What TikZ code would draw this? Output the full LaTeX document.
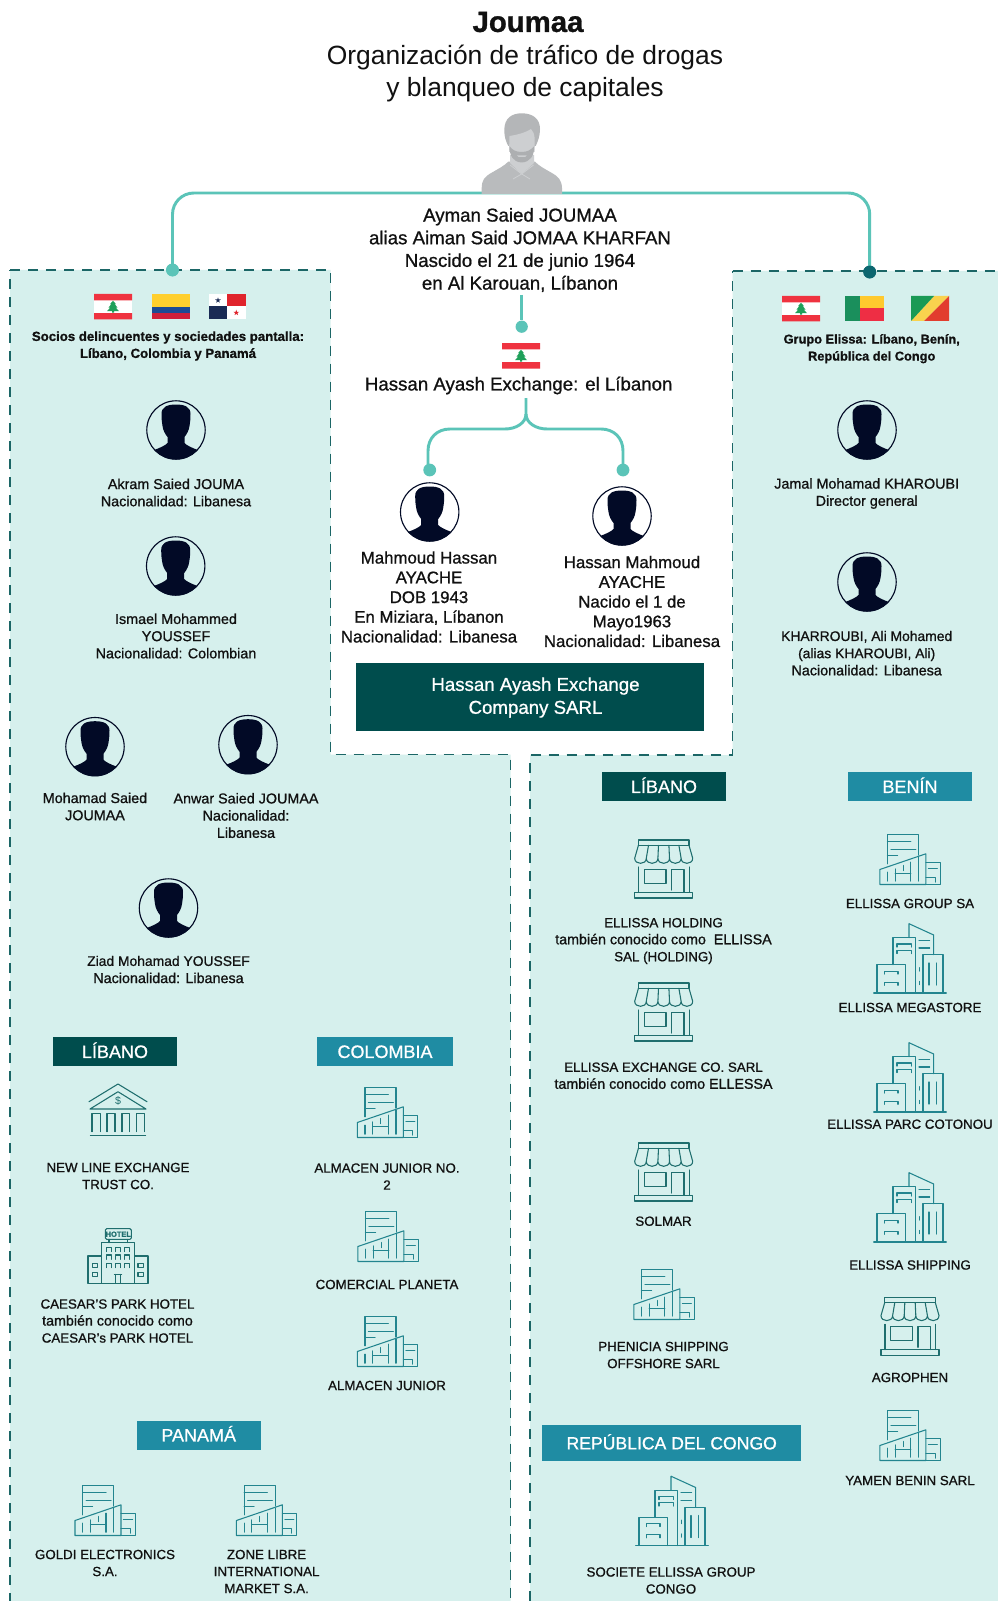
\documentclass[tikz,border=0pt]{standalone}
\usepackage{fontspec}
\setmainfont[FakeBold=0.9]{Liberation Sans}
\newfontfamily\regfont{Liberation Sans}
\definecolor{panel}{HTML}{D6F0ED}
\definecolor{dashc}{HTML}{1B6666}
\definecolor{conn}{HTML}{5BC4B8}
\definecolor{darkt}{HTML}{004D4D}
\definecolor{midt}{HTML}{1F8CA3}
\definecolor{icond}{HTML}{1F6E6E}
\definecolor{iconm}{HTML}{23858F}
\definecolor{ink}{HTML}{111111}
\definecolor{navy}{HTML}{020A26}
\definecolor{frd}{HTML}{EF3340}
\definecolor{fgr}{HTML}{1FA05A}
\definecolor{gb}{HTML}{B9BBBD}
\definecolor{gh}{HTML}{B4B6B8}
\definecolor{gl}{HTML}{CDCFD1}
\definecolor{gd}{HTML}{ADAFB1}
\definecolor{coly}{HTML}{FFCF2E}
\definecolor{colb}{HTML}{1C4A94}
\definecolor{colr}{HTML}{CE1F3A}
\definecolor{panr}{HTML}{E0242C}
\definecolor{pann}{HTML}{1A2B55}
\definecolor{beng}{HTML}{1A8F5C}
\definecolor{beny}{HTML}{FFC92E}
\definecolor{benr}{HTML}{EE2E44}
\definecolor{cony}{HTML}{F9D24E}
\definecolor{cong}{HTML}{1A9A55}
\definecolor{conr}{HTML}{E23D2E}
\newcommand{\lcline}[1]{{\fontsize{10.7}{12.75}\selectfont #1}}
\newcommand{\tightline}[1]{{\fontsize{10.4}{12.9}\selectfont #1}}
\tikzset{
 panelshape/.style={fill=panel,draw=dashc,line width=0.95pt,dash pattern=on 7.5pt off 6pt},
 connline/.style={draw=conn,line width=2.2pt},
 dotn/.style={circle,fill=conn,inner sep=0,minimum size=9.6pt},
 dotd/.style={circle,fill=midt!40!darkt,inner sep=0,minimum size=9.6pt},
 txtbase/.style={text=ink,align=center,inner sep=0},
 headt/.style={txtbase,font=\fontsize{14}{17}\selectfont},
 namet/.style={txtbase,font=\fontsize{12.6}{14.8}\selectfont},
 pert/.style={txtbase,font=\fontsize{10.75}{12.9}\selectfont},
 itemt/.style={txtbase,font=\fontsize{10}{12.75}\selectfont},
 boldt/.style={txtbase,font=\bfseries\fontsize{9.9}{12.75}\selectfont},
 tagbox/.style={inner sep=0,text=white,minimum height=21.75pt,text height=9.7pt,text depth=0pt,font=\fontsize{13.5}{16}\selectfont},
 icon/.style={line width=0.8pt,line join=round,line cap=round},
 person/.pic={
  \begin{scope}
   \clip (0,0) circle (29.5);
   \fill[navy] (0,-25.5) .. controls (-9,-25.5) and (-14.5,-23) .. (-14.5,-16)
     .. controls (-14.5,-10) and (-14,-7) .. (-13.5,-4)
     .. controls (-13,0) and (-11,4) .. (-8.5,7)
     -- (-8.5,13) .. controls (-10,15) and (-16,18) .. (-22,20) -- (-22,32) -- (22,32) -- (22,20)
     .. controls (16,18) and (10,15) .. (8.5,13) -- (8.5,7)
     .. controls (11,4) and (13,0) .. (13.5,-4)
     .. controls (14,-7) and (14.5,-10) .. (14.5,-16)
     .. controls (14.5,-23) and (9,-25.5) .. (0,-25.5) -- cycle;
  \end{scope}
  \draw[navy,line width=0.85pt] (0,0) circle (29.2);
 },
 storeicon/.pic={
  \begin{scope}[icon]
  \draw (-25.3,-29) rectangle (25.3,-23.7);
  \draw (-25.3,-23.7) -- (-29,-10.7) .. controls (-29,-4) and (-17.4,-4) .. (-17.4,-10.7)
        -- (-15.2,-23.7) (-17.4,-10.7) .. controls (-17.4,-4) and (-5.8,-4) .. (-5.8,-10.7)
        -- (-5.2,-23.7) (-5.8,-10.7) .. controls (-5.8,-4) and (5.8,-4) .. (5.8,-10.7)
        -- (5.2,-23.7) (5.8,-10.7) .. controls (5.8,-4) and (17.4,-4) .. (17.4,-10.7)
        -- (15.2,-23.7) (17.4,-10.7) .. controls (17.4,-4) and (29,-4) .. (29,-10.7)
        -- (25.3,-23.7);
  \draw (-25,-2) -- (-25,23.3) (25.5,-2) -- (25.5,23.3);
  \draw (-19.3,0.3) rectangle (2.3,14.3);
  \draw (8,21) -- (8,0.3) -- (20.3,0.3) -- (20.3,23.3);
  \draw (-29,23.3) rectangle (29,29);
  \end{scope}
 },
 officeicon/.pic={
  \begin{scope}[icon]
  \draw (-22.5,4.3) -- (-22.5,-25) -- (8.5,-25) -- (8.5,-4.5);
  \draw (-22.5,-18) -- (0.8,-18) (-19,-10) -- (5.8,-10) (-22.5,-4) -- (-12.5,-4);
  \draw (-30.2,25) -- (-30.2,10) -- (15.8,-5.7) -- (15.8,25) -- cycle;
  \draw (15.8,3.3) -- (30.2,3.3) -- (30.2,25) -- (15.8,25);
  \draw (18.3,8.7) -- (27.3,8.7) (15.8,17.7) -- (25.2,17.7) -- (25.2,22.7);
  \draw (-22.5,12.7) -- (-22.5,21.7) (-14.8,9.3) -- (-14.8,21.7) (0.8,2.7) -- (0.8,21.7) (8.5,-2.3) -- (8.5,21.7);
  \draw (-6.8,6) -- (-6.8,11) (-14.8,14.3) -- (0.8,14.3);
  \end{scope}
 },
 cityicon/.pic={
  \begin{scope}[icon]
  \draw (-36.3,35) -- (36.3,35);
  \draw (-33,35) -- (-33,6.7) -- (-4.7,6.7) -- (-4.7,35);
  \draw (-17,6.7) -- (-17,-20.3) -- (5.7,-20.3) -- (5.7,35);
  \draw (-1,-20.3) -- (-1,-34.3) -- (23.7,-23) -- (23.7,-3.3);
  \draw (13,35) -- (13,-3.3) -- (33,-3.3) -- (33,35);
  \draw (-25.3,16) -- (-25.3,13.3) -- (-12,13.3) -- (-12,16) (-25.3,27.3) -- (-25.3,24.3) -- (-12,24.3) -- (-12,27.3);
  \draw (-13,-11) -- (-13,-14) -- (1.3,-14) -- (1.3,-11) (-13,-4.5) -- (-13,-7.7) -- (1.3,-7.7) -- (1.3,-4.5);
  \draw (9,-17.7) -- (19.7,-17.7) (9,-10) -- (19.7,-10);
  \draw (19,5) -- (19,27) (26.3,5) -- (26.3,27);
  \draw (9.7,9.7) -- (9.7,13) (9.7,23.3) -- (9.7,26.7);
  \end{scope}
 },
 bankicon/.pic={
  \begin{scope}[icon]
  \draw (-29,-8.3) -- (0,-26) -- (29,-8.3);
  \draw (-28,-1) -- (0,-18.3) -- (28,-1) -- cycle;
  \foreach \a/\b in {-26/-17.7,-11/-3,4/11.7,18.7/26.7}{
    \draw (\a,21.7) -- (\a,3.3) -- (\b,3.3) -- (\b,21.7);
  }
  \draw (-27.7,25.7) -- (27.7,25.7);
  \node[inner sep=0,font=\regfont\fontsize{8}{8}\selectfont] (dollar) at (0,-9.2) {\$};
  \end{scope}
 },
 hotelicon/.pic={
  \begin{scope}[icon]
  \draw[rounded corners=1pt] (-12.7,-27.3) rectangle (13.3,-16.7);
  \node[inner sep=0,font=\bfseries\fontsize{5.6}{6}\selectfont] (hotellabel) at (0.3,-21.8) {HOTEL};
  \draw (-9,-16.7) -- (-9,-13.3) (9.7,-16.7) -- (9.7,-13.3);
  \draw (-16.7,-13.3) rectangle (16.7,27.3);
  \draw (-16.7,0) -- (-30,0) -- (-30,27.3) -- (30,27.3) -- (30,0) -- (16.7,0);
  \foreach \a in {-11.7,-2.8,6.2}{
    \foreach \b in {-8.7,-1,7.3}{
      \draw (\a,\b+4.4) -- (\a,\b) -- (\a+5,\b) -- (\a+5,\b+4.4);
    }
  }
  \foreach \a in {-25.7,20}{
    \foreach \b in {7.3,16.3}{ \draw (\a,\b) rectangle (\a+5.4,\b+4.6); }
  }
  \draw (-3.7,18.3) -- (3.7,18.3) (-2.4,18.3) -- (-2.4,27.3) (2.6,18.3) -- (2.6,27.3);
  \end{scope}
 },
 cedar/.pic={
  \fill[fgr] (0,-6) -- (3,-2.5) -- (1.8,-2.5) -- (4.6,1) -- (2.8,1) -- (6,4.4) -- (1,4.4) -- (1,6) -- (-1,6) -- (-1,4.4) -- (-6,4.4) -- (-2.8,1) -- (-4.6,1) -- (-1.8,-2.5) -- (-3,-2.5) -- cycle;
 },
 lbflag/.pic={
  \fill[white] (0,0) rectangle (38,25.5);
  \fill[frd] (0,0) rectangle (38,6.4) (0,19.1) rectangle (38,25.5);
  \pic at (19,12.7) {cedar};
 },
}
\begin{document}
\begin{tikzpicture}[x=0.75pt,y=-0.75pt]
\useasboundingbox (0,0) rectangle (997,1601);
\fill[white] (0,0) rectangle (997,1601);

% panels
\path[panelshape] (10,270) -- (330.5,270) -- (330.5,754.5) -- (510.5,754.5) -- (510.5,1606) -- (10,1606) -- cycle;
\path[panelshape] (732.5,271) -- (1005,271) -- (1005,1606) -- (530,1606) -- (530,755) -- (732.5,755) -- cycle;

% title
\node[txtbase,font=\bfseries\fontsize{22}{24}\selectfont] (title) at (528,22) {Joumaa};
\node[txtbase,font=\regfont\fontsize{19.8}{24}\selectfont] (subtitle) at (525,74) {Organización de tráfico de drogas\\y blanqueo de capitales};

% connectors
\node[dotn] (dl) at (172.5,270) {};
\node[dotd] (dr) at (869.7,272) {};
\coordinate (bossbar) at (521.7,193);
\draw[connline,rounded corners=16pt] (dl.center) |- (bossbar) -| (dr.center);
\node[dotn] at (dl) {};
\node[dotd] at (dr) {};

% boss
\fill[gb] (481.7,194) -- (481.7,188) .. controls (482,180) and (484,177) .. (492,172.5) .. controls (498,169) and (504,166) .. (508.3,161.7) -- (535,161.7) .. controls (539,166) and (545,169) .. (551,172.5) .. controls (559,177) and (561.5,180) .. (562,188) -- (562,194) -- cycle;
\fill[gl] (510,155) -- (534,155) -- (534,163) -- (521.7,174) -- (510,163) -- cycle;
\draw[gl,line width=0.6pt] (510,165) -- (521.7,174) -- (513,179) (533.5,165) -- (521.7,174) -- (530,179);
\fill[gh] (504.3,130) .. controls (504.3,118) and (512,113.3) .. (521.7,113.3) .. controls (533,113.3) and (540,119) .. (540,129) .. controls (540,136) and (538,141) .. (535.7,146) -- (508.3,146) .. controls (505.5,141) and (504.3,136) .. (504.3,130) -- cycle;
\fill[gl] (509.5,136) .. controls (516,135) and (525,133) .. (531,129) .. controls (533,131) and (534.3,134) .. (534.6,138) -- (534.6,152) -- (509,152) -- cycle;
\fill[gd] (509.5,146) .. controls (512,150) and (516,152) .. (521.7,152) .. controls (527,152) and (531,150) .. (534.3,146) .. controls (534.3,156) and (530,162) .. (521.7,162.5) .. controls (513,162) and (509.5,156) .. (509.5,146) -- cycle;
\fill[gl] (517,155.5) -- (526.5,155.5) -- (525,157) -- (518.5,157) -- cycle;

\node[headt] (bossinfo) at (520,250) {Ayman Saied JOUMAA\\alias Aiman Said JOMAA KHARFAN\\Nascido el 21 de junio 1964\\en Al Karouan, Líbanon};

% central column
\coordinate (s1) at (521.7,295);
\node[dotn,minimum size=9.2pt] (d1) at (521.7,326.7) {};
\draw[connline] (s1) -- (d1);
\pic at (502,343) {lbflag};
\node[headt] (hae) at (518.7,385.5) {Hassan Ayash Exchange: el Líbanon};
\coordinate (b0) at (526,398);
\node[dotn] (d2) at (429.7,470) {};
\node[dotn] (d3) at (623,470) {};
\draw[connline] (b0) -- (526,414) .. controls (526,423) and (516,429) .. (505,429) -- (450,429) .. controls (437,429) and (428,438) .. (428,451) -- (428,470);
\draw[connline] (526,414) .. controls (526,423) and (536,429) .. (547,429) -- (601,429) .. controls (614,429) and (623,438) .. (623,451) -- (d3.center);
\pic at (429.7,512) {person};
\pic at (622,516) {person};
\node[namet] (mh) at (429,597) {Mahmoud Hassan\\AYACHE\\DOB 1943\\En Miziara, Líbanon\\Nacionalidad: Libanesa};
\node[namet] (hm) at (632,601.5) {Hassan Mahmoud\\AYACHE\\Nacido el 1 de\\Mayo1963\\Nacionalidad: Libanesa};
\node[fill=darkt,inner sep=0,minimum width=261pt,minimum height=50.7pt] (company) at (530,696.8) {};
\node[text=white,inner sep=0,align=center,font=\fontsize{14}{17.2}\selectfont] (companyt) at (535.5,697.5) {Hassan Ayash Exchange\\Company SARL};

% left flags
\pic at (94,294) {lbflag};
\fill[coly] (152,294) rectangle (190,307);
\fill[colb] (152,307) rectangle (190,313);
\fill[colr] (152,313) rectangle (190,319);
\fill[white] (209,294) rectangle (245.5,319);
\fill[panr] (227.3,294) rectangle (245.5,306.5);
\fill[pann] (209,306.5) rectangle (227.3,319);
\fill[pann,shift={(218,300.3)}] (0,-3) -- (0.7,-0.9) -- (2.9,-0.9) -- (1.1,0.4) -- (1.8,2.4) -- (0,1.2) -- (-1.8,2.4) -- (-1.1,0.4) -- (-2.9,-0.9) -- (-0.7,-0.9) -- cycle;
\fill[panr,shift={(236.3,312.7)}] (0,-3) -- (0.7,-0.9) -- (2.9,-0.9) -- (1.1,0.4) -- (1.8,2.4) -- (0,1.2) -- (-1.8,2.4) -- (-1.1,0.4) -- (-2.9,-0.9) -- (-0.7,-0.9) -- cycle;
\node[boldt] (socios) at (168,346) {Socios delincuentes y sociedades pantalla:\\Líbano, Colombia y Panamá};

% left persons
\pic at (176,430) {person};
\node[pert] (p1) at (176,492.5) {Akram Saied JOUMA\\Nacionalidad: Libanesa};
\pic at (175.7,566) {person};
\node[pert] (p2) at (176,636) {Ismael Mohammed\\YOUSSEF\\Nacionalidad: Colombian};
\pic at (95,746.7) {person};
\node[pert] (p3) at (95,806.5) {Mohamad Saied\\JOUMAA};
\pic at (248,744.7) {person};
\node[pert] (p4) at (246,815.5) {Anwar Saied JOUMAA\\Nacionalidad:\\Libanesa};
\pic at (168.5,908) {person};
\node[pert] (p5) at (168.5,969.5) {\tightline{Ziad Mohamad YOUSSEF}\\Nacionalidad: Libanesa};

% left tags
\node[tagbox,fill=darkt,minimum width=93pt] (tl1) at (115,1051.5) {LÍBANO};
\node[tagbox,fill=midt,minimum width=101.5pt] (tl2) at (385,1051.5) {COLOMBIA};
\node[tagbox,fill=midt,minimum width=92.7pt] (tl3) at (198.7,1435) {PANAMÁ};

% left items
\pic[color=icond] at (118,1110) {bankicon};
\node[itemt] (i1) at (118,1176) {NEW LINE EXCHANGE\\TRUST CO.};
\pic[color=icond] at (118,1256) {hotelicon};
\node[itemt] (i2) at (117.5,1321) {CAESAR’S PARK HOTEL\\\lcline{también conocido como}\\CAESAR’s PARK HOTEL};
\pic[color=iconm] at (387.5,1112.5) {officeicon};
\node[itemt] (i3) at (387,1176.5) {ALMACEN JUNIOR NO.\\2};
\pic[color=iconm] at (388,1236.5) {officeicon};
\node[itemt] (i4) at (387,1284.5) {COMERCIAL PLANETA};
\pic[color=iconm] at (387.5,1341.5) {officeicon};
\node[itemt] (i5) at (387,1385.5) {ALMACEN JUNIOR};
\pic[color=iconm] at (105.2,1510.5) {officeicon};
\node[itemt] (i6) at (105,1563) {GOLDI ELECTRONICS\\S.A.};
\pic[color=iconm] at (266.6,1510.5) {officeicon};
\node[itemt] (i7) at (266.6,1571.5) {ZONE LIBRE\\INTERNATIONAL\\MARKET S.A.};

% right flags
\pic at (782,296) {lbflag};
\fill[beng] (845,296) rectangle (860,321);
\fill[beny] (860,296) rectangle (884,308);
\fill[benr] (860,308) rectangle (884,321);
\fill[cony] (911,321) -- (934,296) -- (949,296) -- (924,321) -- cycle;
\fill[cong] (911,296) -- (934,296) -- (911,321) -- cycle;
\fill[conr] (949,296) -- (949,321) -- (924,321) -- cycle;
\node[txtbase,font=\bfseries\fontsize{9.6}{12.75}\selectfont] (grupo) at (871.7,348.7) {Grupo Elissa: Líbano, Benín,\\República del Congo};

% right persons
\pic at (867,430) {person};
\node[pert] (r1) at (866.7,493.5) {Jamal Mohamad KHAROUBI\\Director general};
\pic at (867,582) {person};
\node[pert] (r2) at (866.7,653.2) {\tightline{KHARROUBI, Ali Mohamed}\\\tightline{(alias KHAROUBI, Ali)}\\Nacionalidad: Libanesa};

% right tags
\node[tagbox,fill=darkt,minimum width=93pt] (tr1) at (664,786.5) {LÍBANO};
\node[tagbox,fill=midt,minimum width=93pt] (tr2) at (910,786.5) {BENÍN};
\node[tagbox,fill=midt,minimum width=194pt,minimum height=26.8pt,text height=9.5pt,font=\fontsize{13.2}{16}\selectfont] (tr3) at (671.7,1443) {REPÚBLICA DEL CONGO};

% middle-right items
\pic[color=icond] at (663.7,869) {storeicon};
\node[itemt] (e1) at (663.5,941) {ELLISSA HOLDING\\\lcline{también conocido como\ \ ELLISSA}\\SAL (HOLDING)};
\pic[color=icond] at (663.7,1012) {storeicon};
\node[itemt] (e2) at (663.5,1075.7) {ELLISSA EXCHANGE CO. SARL\\\lcline{también conocido como ELLESSA}};
\pic[color=icond] at (663.7,1172) {storeicon};
\node[itemt] (e3) at (663.5,1221.2) {SOLMAR};
\pic[color=iconm] at (664,1294.5) {officeicon};
\node[itemt] (e4) at (663.5,1355) {PHENICIA SHIPPING\\OFFSHORE SARL};
\pic[color=iconm] at (672,1510.5) {cityicon};
\node[itemt] (e5) at (671,1580.5) {SOCIETE ELLISSA GROUP\\CONGO};

% far right items
\pic[color=iconm] at (910,859.5) {officeicon};
\node[itemt] (f1) at (910,903.5) {ELLISSA GROUP SA};
\pic[color=iconm] at (910,958) {cityicon};
\node[itemt] (f2) at (910,1007.5) {ELLISSA MEGASTORE};
\pic[color=iconm] at (910,1077) {cityicon};
\node[itemt] (f3) at (910,1124.2) {ELLISSA PARC COTONOU};
\pic[color=iconm] at (910,1207) {cityicon};
\node[itemt] (f4) at (910,1265) {ELLISSA SHIPPING};
\pic[color=icond] at (910,1326.3) {storeicon};
\node[itemt] (f5) at (910,1377.5) {AGROPHEN};
\pic[color=iconm] at (910,1435.5) {officeicon};
\node[itemt] (f6) at (910,1480.5) {YAMEN BENIN SARL};
\end{tikzpicture}
\end{document}
